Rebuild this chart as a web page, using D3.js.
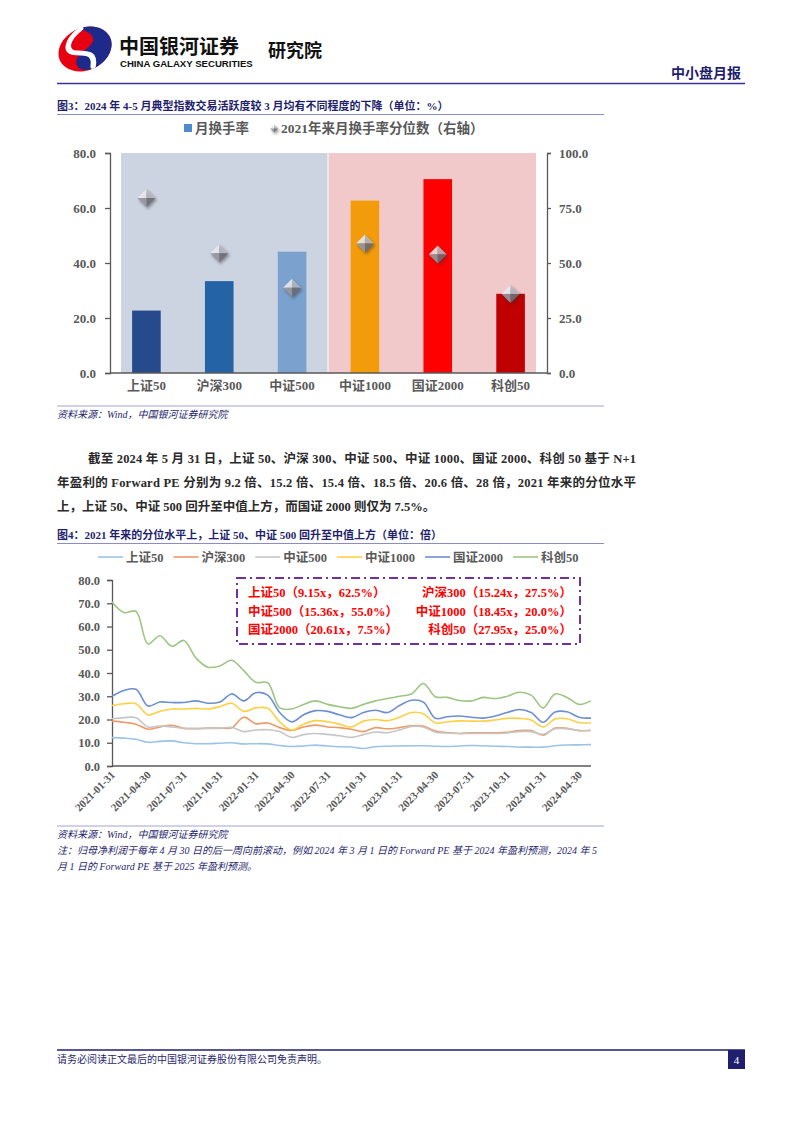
<!DOCTYPE html>
<html>
<head>
<meta charset="utf-8">
<script src="https://cdn.jsdelivr.net/npm/d3@7"></script>
<style>
body { margin: 0; background: #fff; }
svg text { font-family: "Liberation Serif", "Noto Sans CJK SC", serif; }
</style>
</head>
<body>
<script>
// ---- figure 3 data ----
var barCats = ["上证50", "沪深300", "中证500", "中证1000", "国证2000", "科创50"];
var turnover = [22.7, 33.4, 44.1, 62.7, 70.5, 28.8];
var pctRank = [79.6, 54.4, 38.8, 58.9, 53.9, 35.9];
var leftTicks = [0, 20, 40, 60, 80];
var rightTicks = [0, 25, 50, 75, 100];

// ---- figure 4 data ----
var months = [
  "2021-01-31","2021-02-28","2021-03-31","2021-04-30","2021-05-31","2021-06-30",
  "2021-07-31","2021-08-31","2021-09-30","2021-10-31","2021-11-30","2021-12-31",
  "2022-01-31","2022-02-28","2022-03-31","2022-04-30","2022-05-31","2022-06-30",
  "2022-07-31","2022-08-31","2022-09-30","2022-10-31","2022-11-30","2022-12-31",
  "2023-01-31","2023-02-28","2023-03-31","2023-04-30","2023-05-31","2023-06-30",
  "2023-07-31","2023-08-31","2023-09-30","2023-10-31","2023-11-30","2023-12-31",
  "2024-01-31","2024-02-29","2024-03-31","2024-04-30","2024-05-31"];
var dateTicks = ["2021-01-31","2021-04-30","2021-07-31","2021-10-31","2022-01-31",
  "2022-04-30","2022-07-31","2022-10-31","2023-01-31","2023-04-30","2023-07-31",
  "2023-10-31","2024-01-31","2024-04-30"];
var peTicks = [0, 10, 20, 30, 40, 50, 60, 70, 80];
var seriesNames = ["上证50", "沪深300", "中证500", "中证1000", "国证2000", "科创50"];
var sz50 = [12.2,12,11.5,10.2,10.6,10.8,10,9.6,9.6,9.8,10,9.5,9.6,9.5,8.8,8.4,8.6,9,8.6,8.3,
  8.2,7.5,8.3,8.5,8.6,8.7,8.7,8.5,8.4,8.6,8.8,8.7,8.5,8.4,8.2,8.1,8.1,8.7,9,9.1,9.2];
var hs300 = [19.3,18.8,18,15.8,16.8,17.5,16.2,16,16.3,16.3,16.5,21,18.2,18.5,16.5,15.3,16.8,17.6,16.8,16.5,
  15.8,14.8,16.5,16,16.5,17.3,17.2,15,14.4,14,14.3,14.3,14.3,14.5,15.2,15.2,13.3,16.3,16.2,15.2,15.3];
var zz500 = [20.3,20.8,20.8,16.8,17.2,16.8,16.2,16.2,16.2,16.2,16.6,14.8,15.5,15.6,14.8,12.3,13.5,14,13.6,13,
  12.3,13.5,14.6,14.3,15.5,17,16.8,14.5,14.2,14,14,14,14,14.2,14.8,14.8,13.6,16,16,15.3,15.4];
var zz1000 = [26,26.8,26.8,22,23.5,24.5,24.5,24.8,24.5,25.5,27,23.5,25,24.8,19,15.5,18,19.5,19,18,
  16.8,19.3,20,19.5,21,23,22.5,18.5,19,19.4,19.3,19.3,19.8,20.5,20.5,19.8,16.8,20.2,20.3,18.7,18.5];
var gz2000 = [30,32.5,33,25.8,27.5,27.3,27.3,28,27,27.5,31,28,31.5,30.5,23,19,22,23.8,23.5,22,
  20.8,23,24,23,26,28.3,27.5,20.5,21.2,21.5,21,20.6,21.5,23,24.3,23,18.8,23.2,23.3,21,20.6];
var kc50 = [70.5,66,66.5,52.5,56,51.5,54,46.5,42.5,43,45.5,41,36,35.8,25,24.5,26.5,28,26.5,25.5,
  24.8,26.5,28,29,30,31,35.5,29.8,29.5,28.2,28,29.5,29,30,31.7,30.5,25,31,29.5,26.5,28];
var calloutLeft = ["上证50（9.15x，62.5%）", "中证500（15.36x，55.0%）", "国证2000（20.61x，7.5%）"];
var calloutRight = ["沪深300（15.24x，27.5%）", "中证1000（18.45x，20.0%）", "科创50（27.95x，25.0%）"];

var barColors = ["#274a8c", "#2563a7", "#7ba2cf", "#f39c0b", "#ff0000", "#c00000"];
var lineColors = ["#9dc3e6", "#ee9a68", "#c6c6c6", "#ffd045", "#6b8fd0", "#9cc682"];
var navy = "#1f1f6e", axisGrey = "#595959";

var svg = d3.select("body").append("svg")
    .attr("width", 802)
    .attr("height", 1133);

// ---- page header ----
var logo = svg.append("g").attr("transform", "translate(85,49) rotate(-25) scale(1.15,0.88)");
logo.append("circle").attr("r", 24).attr("fill", "#e60012");
logo.append("path")
    .attr("d", "M-2,-24 A24,24 0 0,1 2,24 C-8,24 -14,18 -12,10 C-9,0 8,2 10,-6 C12,-14 6,-22 -2,-24 Z")
    .attr("fill", "#1d2a8a");
logo.append("path")
    .attr("d", "M4,-23 C-12,-18 -18,-6 -8,0 C2,6 6,10 0,22")
    .attr("fill", "none").attr("stroke", "#fff").attr("stroke-width", 5).attr("stroke-linecap", "round");

svg.append("text").attr("x", 119).attr("y", 54)
    .style("font-size", "20px").style("font-weight", "bold").style("font-family", "Noto Sans CJK SC")
    .attr("fill", "#111").text("中国银河证券");
svg.append("text").attr("x", 120).attr("y", 67)
    .style("font-size", "9.6px").style("font-weight", "bold").style("font-family", "Liberation Sans")
    .attr("fill", "#111").text("CHINA GALAXY SECURITIES");
svg.append("text").attr("x", 268).attr("y", 57)
    .style("font-size", "18px").style("font-weight", "bold").style("font-family", "Noto Sans CJK SC")
    .attr("fill", "#111").text("研究院");
svg.append("text").attr("x", 741).attr("y", 78).attr("text-anchor", "end")
    .style("font-size", "14px").style("font-weight", "bold")
    .attr("fill", navy).text("中小盘月报");
svg.append("line").attr("x1", 57).attr("x2", 745).attr("y1", 83.5).attr("y2", 83.5)
    .attr("stroke", "#34349a").attr("stroke-width", 1.5);

function figTitle(y, txt) {
  svg.append("text").attr("x", 57).attr("y", y)
      .style("font-size", "11px").style("font-weight", "bold")
      .attr("fill", navy).text(txt);
  svg.append("line").attr("x1", 57).attr("x2", 604).attr("y1", y + 4.5).attr("y2", y + 4.5)
      .attr("stroke", "#8c8cc4").attr("stroke-width", 1.2);
}
function sourceLines(y, lines) {
  svg.append("line").attr("x1", 57).attr("x2", 604).attr("y1", y).attr("y2", y)
      .attr("stroke", "#a4a4cc").attr("stroke-width", 1);
  lines.forEach(function(t, i) {
    svg.append("text").attr("x", 57).attr("y", y + 12 + i * 16)
        .style("font-size", "10px").style("font-style", "italic")
        .attr("fill", navy).text(t);
  });
}

// ---- figure 3 ----
figTitle(110, "图3：2024 年 4-5 月典型指数交易活跃度较 3 月均有不同程度的下降（单位：%）");

var x3 = d3.scaleBand().domain(barCats).range([110, 547]);
var yL = d3.scaleLinear().domain([0, 80]).range([373, 153]);
var yR = d3.scaleLinear().domain([0, 100]).range([373, 153]);
var bw = x3.bandwidth();

svg.append("rect").attr("x", x3(barCats[0]) + 11).attr("y", yL(80))
    .attr("width", x3(barCats[3]) - 1 - x3(barCats[0]) - 11).attr("height", yL(0) - yL(80))
    .attr("fill", "#ccd3e1");
svg.append("rect").attr("x", x3(barCats[3])).attr("y", yL(80))
    .attr("width", x3(barCats[5]) + bw - 11 - x3(barCats[3])).attr("height", yL(0) - yL(80))
    .attr("fill", "#f2c9cb");

svg.append("g").selectAll("rect")
    .data(turnover)
    .enter().append("rect")
    .attr("x", function(d, i) { return x3(barCats[i]) + bw / 2 - 14.3; })
    .attr("width", 28.6)
    .attr("y", function(d) { return yL(d); })
    .attr("height", function(d) { return yL(0) - yL(d); })
    .attr("fill", function(d, i) { return barColors[i]; });

var defs = svg.append("defs");
defs.append("filter").attr("id", "blur").append("feGaussianBlur").attr("stdDeviation", 1.8);

function diamond(g, cx, cy, s) {
  var T = [cx, cy - s], R = [cx + s, cy], B = [cx, cy + s], L = [cx - s, cy], C = [cx, cy];
  g.append("path").attr("d", "M" + [T, R, B, L].join("L") + "Z")
      .attr("transform", "translate(1.5,2)").attr("fill", "#333").attr("opacity", 0.45)
      .attr("filter", "url(#blur)");
  var faces = [[T, L, C, "#ececf0"], [T, R, C, "#b8b8c0"], [R, B, C, "#6e6e78"], [B, L, C, "#9a9aa4"]];
  faces.forEach(function(f) {
    g.append("path").attr("d", "M" + [f[0], f[1], f[2]].join("L") + "Z")
        .attr("fill", f[3]).attr("opacity", 0.88);
  });
}
var dg = svg.append("g");
pctRank.forEach(function(d, i) { diamond(dg, x3(barCats[i]) + bw / 2, yR(d), 9); });

function styleAxis(g, size) {
  g.select(".domain").attr("stroke", axisGrey).attr("stroke-width", 1.3);
  g.selectAll(".tick line").attr("stroke", axisGrey).attr("stroke-width", 1.3);
  g.selectAll("text").attr("fill", axisGrey)
      .style("font-size", size).style("font-weight", "bold");
}
var fmt = d3.format(".1f");
svg.append("g").attr("transform", "translate(110,0)")
    .call(d3.axisLeft(yL).tickValues(leftTicks).tickFormat(fmt).tickSize(5).tickPadding(9).tickSizeOuter(5))
    .call(styleAxis, "13px");
svg.append("g").attr("transform", "translate(547,0)")
    .call(d3.axisRight(yR).tickValues(rightTicks).tickFormat(fmt).tickSize(4).tickPadding(8).tickSizeOuter(4))
    .call(styleAxis, "13px");
svg.append("line").attr("x1", 110).attr("x2", 547).attr("y1", 373).attr("y2", 373)
    .attr("stroke", axisGrey).attr("stroke-width", 1.3);
svg.append("g").selectAll("text")
    .data(barCats)
    .enter().append("text")
    .attr("x", function(d) { return x3(d) + bw / 2; })
    .attr("y", 390)
    .attr("text-anchor", "middle")
    .attr("fill", axisGrey)
    .style("font-size", "13px").style("font-weight", "bold")
    .text(function(d) { return d; });

// legend
svg.append("rect").attr("x", 184).attr("y", 124).attr("width", 8).attr("height", 8).attr("fill", "#4f8bcb");
svg.append("text").attr("x", 195).attr("y", 133).attr("fill", axisGrey)
    .style("font-size", "13.5px").style("font-weight", "bold").text("月换手率");
diamond(svg.append("g"), 274, 128.5, 4);
svg.append("text").attr("x", 281).attr("y", 133).attr("fill", axisGrey)
    .style("font-size", "13.5px").style("font-weight", "bold").text("2021年来月换手率分位数（右轴）");

sourceLines(406, ["资料来源：Wind，中国银河证券研究院"]);

// ---- body text ----
var body = [
  ["截至 2024 年 5 月 31 日，上证 50、沪深 300、中证 500、中证 1000、国证 2000、科创 50 基于 N+1", 88, 548],
  ["年盈利的 Forward PE 分别为 9.2 倍、15.2 倍、15.4 倍、18.5 倍、20.6 倍、28 倍，2021 年来的分位水平", 57, 579],
  ["上，上证 50、中证 500 回升至中值上方，而国证 2000 则仅为 7.5%。", 57, 0]
];
body.forEach(function(b, i) {
  var t = svg.append("text").attr("x", b[1]).attr("y", 463 + i * 24)
      .attr("fill", "#2a2a2a").style("font-size", "12.5px").style("font-weight", "bold").text(b[0]);
  if (b[2]) t.attr("textLength", b[2]).attr("lengthAdjust", "spacing");
});

// ---- figure 4 ----
figTitle(539, "图4：2021 年来的分位水平上，上证 50、中证 500 回升至中值上方（单位：倍）");

var x4 = d3.scalePoint().domain(months).range([112, 591]);
var y4 = d3.scaleLinear().domain([0, 80]).range([766, 580]);
var allSeries = [sz50, hs300, zz500, zz1000, gz2000, kc50];

svg.append("g").attr("transform", "translate(112,0)")
    .call(d3.axisLeft(y4).tickValues(peTicks).tickFormat(fmt).tickSize(5).tickPadding(7).tickSizeOuter(5))
    .call(styleAxis, "12.5px");
svg.append("line").attr("x1", 112).attr("x2", 591).attr("y1", 766).attr("y2", 766)
    .attr("stroke", axisGrey).attr("stroke-width", 1.3);

var line = d3.line()
    .x(function(d, i) { return x4(months[i]); })
    .y(function(d) { return y4(d); })
    .curve(d3.curveCatmullRom.alpha(0.5));
svg.append("g").selectAll("path")
    .data(allSeries)
    .enter().append("path")
    .attr("fill", "none")
    .attr("stroke", function(d, i) { return lineColors[i]; })
    .attr("stroke-width", 1.6)
    .attr("d", line);

svg.append("g").selectAll("text")
    .data(dateTicks)
    .enter().append("text")
    .attr("transform", function(d) { return "translate(" + (x4(d) + 1) + ",773) rotate(-45)"; })
    .attr("text-anchor", "end")
    .attr("dy", "0.35em")
    .attr("fill", axisGrey)
    .style("font-size", "11px").style("font-weight", "bold")
    .text(function(d) { return d; });

// legend
var lx = 98;
seriesNames.forEach(function(n, i) {
  svg.append("line").attr("x1", lx).attr("x2", lx + 25).attr("y1", 557).attr("y2", 557)
      .attr("stroke", lineColors[i]).attr("stroke-width", 1.6);
  var t = svg.append("text").attr("x", lx + 28).attr("y", 561.5).attr("fill", axisGrey)
      .style("font-size", "12.5px").style("font-weight", "bold").text(n);
  lx += 28 + t.node().getComputedTextLength() + 10;
});

// callout box
svg.append("rect").attr("x", 237).attr("y", 578).attr("width", 343).attr("height", 66)
    .attr("fill", "#fff").attr("stroke", "#7030a0").attr("stroke-width", 2)
    .attr("stroke-dasharray", "9,4,2,4");
calloutLeft.forEach(function(t, i) {
  svg.append("text").attr("x", 248).attr("y", 597 + i * 18.5).attr("fill", "#ff0000")
      .style("font-size", "12.5px").style("font-weight", "bold").text(t);
});
calloutRight.forEach(function(t, i) {
  svg.append("text").attr("x", 572).attr("y", 597 + i * 18.5).attr("text-anchor", "end").attr("fill", "#ff0000")
      .style("font-size", "12.5px").style("font-weight", "bold").text(t);
});

sourceLines(826, ["资料来源：Wind，中国银河证券研究院",
  "注：归母净利润于每年 4 月 30 日的后一周向前滚动，例如 2024 年 3 月 1 日的 Forward PE 基于 2024 年盈利预测，2024 年 5",
  "月 1 日的 Forward PE 基于 2025 年盈利预测。"]);

// ---- footer ----
svg.append("line").attr("x1", 57).attr("x2", 745).attr("y1", 1050).attr("y2", 1050)
    .attr("stroke", navy).attr("stroke-width", 1.5);
svg.append("text").attr("x", 57).attr("y", 1063).attr("fill", navy)
    .style("font-size", "10px").text("请务必阅读正文最后的中国银河证券股份有限公司免责声明。");
svg.append("rect").attr("x", 728).attr("y", 1050).attr("width", 17).attr("height", 19).attr("fill", navy);
svg.append("text").attr("x", 736.5).attr("y", 1064).attr("text-anchor", "middle").attr("fill", "#fff")
    .style("font-size", "11px").text("4");
</script>
</body>
</html>
